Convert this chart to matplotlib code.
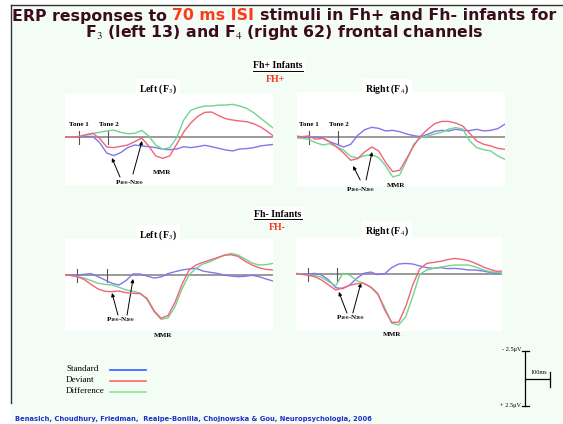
import matplotlib.pyplot as plt
from matplotlib.patches import Rectangle
from matplotlib.lines import Line2D

plt.rcParams['mathtext.fontset'] = 'stix'

W, H = 563, 424

# time axis (ms from tone 1) and amplitudes (uV, negative up)
t_ms = list(range(-40, 561, 20))

# Fh+ infants, left F3
fhp_left_std = [0, 0, 0, -0.06, -0.06, 0.54, 1.54, 1.79, 1.5, 1.02, 0.77, 0.86, 0.93, 1.02, 1.18, 1.22,
                1.15, 0.93, 1.02, 0.93, 0.8, 0.93, 1.09, 1.25, 1.34, 1.15, 1.12, 1.02, 0.86, 0.77, 0.7]
fhp_left_dev = [0, 0, -0.03, -0.22, -0.35, 0.13, 0.96, 1.02, 0.9, 0.77, 0.45, 0.1, 0.86, 1.82, 2.05, 1.82,
                0.7, -0.48, -1.34, -1.98, -2.37, -2.4, -2.05, -1.76, -1.63, -1.54, -1.47, -1.28, -0.96, -0.51, 0]
fhp_left_dif = [0, 0, -0.06, -0.19, -0.35, -0.45, -0.58, -0.67, -0.45, -0.32, -0.35, -0.64, -0.1, 0.77, 1.18, 1.02,
                0.06, -1.63, -2.56, -2.82, -2.98, -2.98, -3.07, -3.07, -3.14, -2.98, -2.75, -2.34, -1.79, -1.28, -0.74]

# Fh+ infants, right F4
fhp_right_std = [-0.1, -0.03, 0.06, 0, 0.1, 0.45, 0.7, 0.96, 0.7, -0.16, -0.7, -0.93, -0.83, -0.58, -0.64, -0.51,
                 -0.29, -0.13, -0.03, -0.26, -0.54, -0.64, -0.58, -0.74, -0.64, -0.61, -0.74, -0.58, -0.64, -0.8, -1.22]
fhp_right_dev = [0, -0.03, -0.1, 0.22, 0.13, 0.48, 0.96, 1.54, 2.24, 2.08, 1.44, 0.96, 1.34, 2.46, 3.33, 3.2,
                 2.05, 0.86, -0.1, -0.74, -1.28, -1.5, -1.5, -1.34, -1.06, -0.35, 0.38, 0.7, 0.86, 1.09, 1.18]
fhp_right_dif = [0.06, 0.13, 0.22, 0.54, 0.77, 0.64, 0.93, 1.28, 1.86, 2.02, 1.79, 1.7, 1.98, 2.78, 3.84, 3.65,
                 2.24, 0.7, 0.06, -0.1, -0.29, -0.45, -0.77, -0.9, -0.77, 0.38, 1.02, 1.22, 1.34, 1.82, 2.14]

# Fh- infants, left F3
fhm_left_std = [0, 0, 0, -0.06, -0.13, 0.16, 0.48, 0.8, 0.96, 0.54, -0.1, -0.1, 0.1, 0.29, 0.19, -0.13,
                -0.32, -0.48, -0.58, -0.64, -0.38, -0.26, -0.16, 0, 0.1, 0.16, 0.13, 0.03, 0.16, 0.38, 0.58]
fhm_left_dev = [0, 0.03, 0.16, 0.42, 0.9, 1.34, 1.57, 1.6, 1.54, 1.7, 1.76, 1.79, 2.24, 3.42, 4.16, 3.9,
                2.62, 0.9, -0.48, -0.96, -1.22, -1.44, -1.66, -1.89, -1.95, -1.79, -1.34, -0.96, -0.7, -0.54, -0.48]
fhm_left_dif = [0, 0.03, 0.16, 0.29, 0.54, 0.8, 0.9, 0.96, 1.18, 1.44, 1.57, 1.73, 2.34, 3.52, 4.26, 4.13,
                3.04, 1.34, 0, -0.64, -1.06, -1.28, -1.6, -1.89, -2.08, -1.92, -1.54, -1.15, -0.96, -0.99, -1.12]

# Fh- infants, right F4
fhm_right_std = [-0.06, -0.03, 0, -0.06, 0.1, 0.58, 1.31, 1.41, 1.06, 0.42, -0.06, -0.19, 0.06, -0.03, -0.61, -0.96,
                 -1.02, -0.96, -0.77, -0.61, -0.54, -0.61, -0.51, -0.54, -0.48, -0.38, -0.38, -0.29, -0.16, -0.06, -0.06]
fhm_right_dev = [0, 0.03, 0.1, 0.26, 0.58, 1.06, 1.54, 1.34, 1.09, 0.93, 0.9, 1.25, 1.86, 3.46, 4.64, 4.64,
                 3.14, 1.06, -0.48, -1.02, -1.12, -1.22, -1.38, -1.5, -1.41, -1.28, -1.02, -0.7, -0.45, -0.26, -0.29]
fhm_right_dif = [-0.06, 0, 0.1, 0.16, 0.32, 0.74, 1.15, -0.06, 0.1, 0.64, 0.9, 1.28, 1.95, 3.23, 4.74, 4.9,
                 4.1, 2.18, 0.03, -0.38, -0.54, -0.67, -0.77, -0.86, -0.86, -0.86, -0.67, -0.42, -0.22, -0.16, -0.06]

panel_titles = ["Left (F$_3$)", "Right (F$_4$)", "Left (F$_3$)", "Right (F$_4$)"]
legend_labels = ["Standard", "Deviant", "Difference"]

c_std, c_dev, c_dif = '#8078ea', '#f2647a', '#72d48e'
dark = '#3a0c1c'
serif = 'Liberation Serif'

fig = plt.figure(figsize=(W / 100, H / 100), dpi=100)
fig.patch.set_facecolor('white')


def fx(x):
    return x / W


def fy(y):
    return 1 - y / H


# slide background and border
fig.patches.append(Rectangle((fx(11), 0), 1 - fx(11), fy(5), transform=fig.transFigure,
                             facecolor='#f4fcf6', edgecolor='none', zorder=-5))
fig.lines.append(Line2D([fx(11), fx(11)], [fy(5), fy(403)], transform=fig.transFigure, color='#333333', lw=1))
fig.lines.append(Line2D([fx(11), 1], [fy(5), fy(5)], transform=fig.transFigure, color='#333333', lw=1))

# title, with "70 ms ISI" in red
r = fig.canvas.get_renderer()
tkw = dict(fontsize=11.3, fontweight='bold', family='DejaVu Sans')
segs = [("ERP responses to", dark), ("70 ms ISI", '#ff3a1a'), ("stimuli in Fh+ and Fh- infants for", dark)]
objs = [fig.text(0, fy(16), s, color=c, va='center', **tkw) for s, c in segs]
ws = [o.get_window_extent(r).width for o in objs]
probe1 = fig.text(0, 0, "a a", **tkw)
probe2 = fig.text(0, 0, "aa", **tkw)
gap = probe1.get_window_extent(r).width - probe2.get_window_extent(r).width
probe1.remove()
probe2.remove()
x0 = 284 - (sum(ws) + 2 * gap) / 2
for o, w in zip(objs, ws):
    o.set_x(fx(x0))
    x0 += w + gap
fig.text(fx(284), fy(32), "F$_3$ (left 13) and F$_4$ (right 62) frontal channels",
         color=dark, ha='center', va='center', **tkw)

# group headers
for ylab, ysub, lab, sub, xs in [(66, 79, "Fh+ Infants", "FH+", 275), (214, 228, "Fh- Infants", "FH-", 277)]:
    tt = fig.text(fx(278), fy(ylab), lab, ha='center', va='center', family=serif, fontweight='bold',
                  fontsize=7, bbox=dict(facecolor='white', edgecolor='none', pad=1.5))
    bb = tt.get_window_extent(r)
    fig.lines.append(Line2D([bb.x0 / W, bb.x1 / W], [fy(ylab + 5), fy(ylab + 5)],
                            transform=fig.transFigure, color='black', lw=0.7, zorder=5))
    fig.text(fx(xs), fy(ysub), sub, ha='center', va='center', family=serif, fontweight='bold',
             fontsize=7, color='#f03a20')

# panels: left, right, top, bottom px, tone1 px, baseline px
geom = [(65, 273, 94, 185, 78.7, 137), (297, 505, 92, 186, 308.7, 137),
        (65, 273, 239, 331, 77, 275), (296, 502, 237, 331, 307.7, 274)]
title_pos = [(158, 89), (387, 89), (158, 235), (387, 231)]
series = [(fhp_left_std, fhp_left_dev, fhp_left_dif), (fhp_right_std, fhp_right_dev, fhp_right_dif),
          (fhm_left_std, fhm_left_dev, fhm_left_dif), (fhm_right_std, fhm_right_dev, fhm_right_dif)]
# P100-N200 label, arrow tails/heads, MMR label (ms, uV)
notes = [
    dict(txt=(144, 4.42), a1=((118, 3.85), (95, 2.02)), a2=((155, 3.56), (181, 0.38)), mmr=(238, 3.37)),
    dict(txt=(147, 5.1), a1=((147, 4.13), (127, 2.79)), a2=((164, 4.13), (181, 1.44)), mmr=(249, 4.7)),
    dict(txt=(123, 4.33), a1=((117, 3.85), (100, 1.73)), a2=((143, 3.85), (160, 0.38)), mmr=(246, 5.77)),
    dict(txt=(121, 4.23), a1=((112, 3.75), (89, 1.73)), a2=((129, 3.75), (152, 0.87)), mmr=(241, 5.86)),
]

for i, (g, ser, nt) in enumerate(zip(geom, series, notes)):
    L, R, T, B, t1, base = g
    ax = fig.add_axes([fx(L), fy(B), (R - L) / W, (B - T) / H])
    ax.set_facecolor('white')
    for s in ax.spines.values():
        s.set_visible(False)
    ax.set_xticks([])
    ax.set_yticks([])
    ax.set_xlim((L - t1) / 0.35, (R - t1) / 0.35)
    ax.set_ylim((B - base) * 2.5 / 26, (T - base) * 2.5 / 26)
    ax.axhline(0, color='#9a9a9a', lw=1.4, zorder=1)
    for tt in (0, 85):
        ax.plot([tt, tt], [-0.6, 0.7], color='#555555', lw=0.8, zorder=2)
    ax.plot(t_ms, ser[0], color=c_std, lw=1.0, zorder=3)
    ax.plot(t_ms, ser[2], color=c_dif, lw=1.0, zorder=3)
    ax.plot(t_ms, ser[1], color=c_dev, lw=1.0, zorder=4)
    if i < 2:
        for tt, lab in ((0, "Tone 1"), (85, "Tone 2")):
            ax.text(tt, -1.25, lab, ha='center', va='center', family=serif, fontweight='bold', fontsize=5)
    ax.text(*nt['txt'], r"P$_{\mathbf{100}}$-N$_{\mathbf{200}}$", ha='center', va='center', family=serif,
            fontweight='bold', fontsize=5, clip_on=False)
    for tail, head in (nt['a1'], nt['a2']):
        ax.annotate('', xy=head, xytext=tail, annotation_clip=False,
                    arrowprops=dict(arrowstyle='-|>', color='black', lw=0.7, mutation_scale=5,
                                    shrinkA=0, shrinkB=0))
    ax.text(*nt['mmr'], "MMR", ha='center', va='center', family=serif, fontweight='bold', fontsize=5,
            clip_on=False)
    tx, ty = title_pos[i]
    fig.text(fx(tx), fy(ty), panel_titles[i], ha='center', va='center', family=serif, fontweight='bold',
             fontsize=7, bbox=dict(facecolor='white', edgecolor='none', pad=2))

# legend
for lab, col, y in zip(legend_labels, ['#3b5bff', '#ff6a5a', '#8ee48e'], [369, 380, 391]):
    fig.text(fx(66), fy(y), lab, ha='left', va='center', family=serif, fontsize=6.5)
    fig.lines.append(Line2D([fx(110), fx(146)], [fy(y + 1), fy(y + 1)], transform=fig.transFigure,
                            color=col, lw=1.2))

# scale bar
sb = dict(transform=fig.transFigure, color='black', lw=0.9)
fig.lines.append(Line2D([fx(525), fx(525)], [fy(351), fy(406)], **sb))
fig.lines.append(Line2D([fx(522), fx(529)], [fy(351), fy(351)], **sb))
fig.lines.append(Line2D([fx(522), fx(529)], [fy(406), fy(406)], **sb))
fig.lines.append(Line2D([fx(525), fx(550)], [fy(379), fy(379)], **sb))
fig.lines.append(Line2D([fx(550), fx(550)], [fy(372), fy(387)], **sb))
fig.text(fx(521), fy(350), "- 2.5\u03bcV", ha='right', va='center', family=serif, fontsize=4.5)
fig.text(fx(521), fy(406), "+ 2.5\u03bcV", ha='right', va='center', family=serif, fontsize=4.5)
fig.text(fx(530), fy(372), "100ms", ha='left', va='center', family=serif, fontsize=4.5)

# citation
fig.text(fx(15), fy(419), "Benasich, Choudhury, Friedman,  Realpe-Bonilla, Chojnowska & Gou, Neuropsychologia, 2006",
         ha='left', va='center', fontsize=4.9, fontweight='bold', color='#2030c8', family='DejaVu Sans')

fig.savefig('out.png', dpi=100)
